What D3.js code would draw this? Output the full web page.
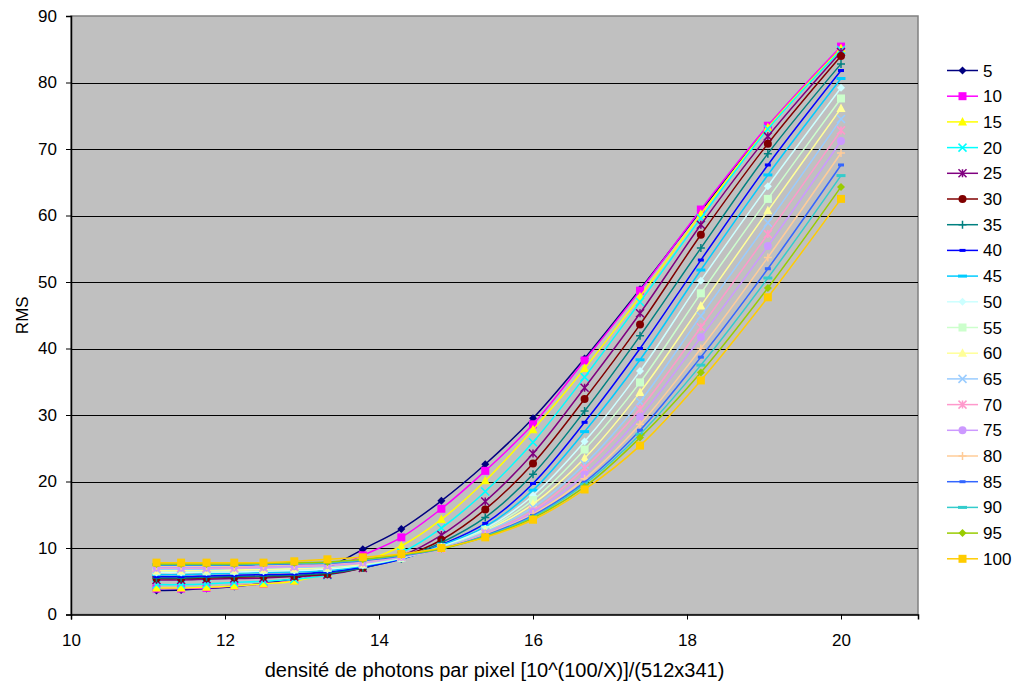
<!DOCTYPE html>
<html>
<head>
<meta charset="utf-8">
<script src="https://cdn.jsdelivr.net/npm/d3@7"></script>
<style>
  body { margin: 0; background: #fff; }
  text { font-family: "Liberation Sans", Arial, sans-serif; }
</style>
</head>
<body>
<div id="chart"></div>
<script>
// x positions: 100/X for X = 9 ... 5
var xValues = [11.11, 11.43, 11.76, 12.12, 12.5, 12.9, 13.33, 13.79, 14.29, 14.81, 15.38, 16.0, 16.67, 17.39, 18.18, 19.05, 20.0];

var seriesNames = ["5", "10", "15", "20", "25", "30", "35", "40", "45", "50",
                   "55", "60", "65", "70", "75", "80", "85", "90", "95", "100"];

var s5   = [3.6, 3.7, 3.9, 4.2, 4.7, 5.4, 7.0, 9.8, 12.85, 17.1, 22.6, 29.5, 38.5, 48.9, 60.7, 73.3, 85.2];
var s10  = [3.9, 3.9, 4.0, 4.3, 4.6, 5.1, 6.6, 8.9, 11.6, 15.9, 21.6, 28.6, 38.2, 48.7, 60.9, 73.5, 85.4];
var s15  = [4.0, 4.0, 4.1, 4.3, 4.6, 5.0, 6.2, 7.9, 10.3, 14.3, 20.1, 27.8, 37.0, 47.8, 60.2, 73.2, 85.1];
var s20  = [4.5, 4.5, 4.6, 4.8, 5.0, 5.3, 5.9, 7.3, 9.3, 13.0, 18.5, 25.9, 35.7, 47.0, 59.6, 73.0, 84.9];
var s25  = [5.2, 5.2, 5.3, 5.4, 5.5, 5.7, 6.0, 7.0, 8.8, 11.95, 17.0, 24.2, 34.1, 45.3, 58.6, 71.9, 84.6];
var s30  = [5.4, 5.4, 5.5, 5.6, 5.7, 5.8, 6.1, 7.0, 8.6, 11.2, 15.8, 22.7, 32.4, 43.6, 57.1, 70.8, 84.0];
var s35  = [5.5, 5.5, 5.6, 5.7, 5.8, 5.9, 6.2, 7.0, 8.4, 10.8, 14.6, 21.1, 30.6, 41.9, 55.1, 69.3, 82.8];
var s40  = [5.7, 5.7, 5.8, 5.9, 6.0, 6.1, 6.4, 7.1, 8.3, 10.5, 13.7, 19.7, 28.9, 40.0, 53.3, 67.6, 81.8];
var s45  = [6.0, 6.0, 6.1, 6.2, 6.3, 6.4, 6.6, 7.3, 8.4, 10.4, 13.2, 18.7, 27.5, 38.3, 51.8, 66.1, 80.6];
var s50  = [6.3, 6.3, 6.4, 6.4, 6.5, 6.6, 6.8, 7.4, 8.5, 10.2, 12.9, 17.9, 26.0, 36.6, 50.2, 64.4, 79.2];
var s55  = [6.5, 6.5, 6.5, 6.6, 6.7, 6.8, 7.0, 7.5, 8.5, 10.1, 12.7, 17.2, 24.8, 34.9, 48.3, 62.5, 77.6];
var s60  = [6.6, 6.6, 6.7, 6.7, 6.8, 6.9, 7.1, 7.6, 8.6, 10.0, 12.5, 16.6, 23.5, 33.4, 46.4, 60.7, 76.1];
var s65  = [6.8, 6.8, 6.8, 6.9, 7.0, 7.1, 7.2, 7.7, 8.6, 10.0, 12.4, 16.1, 22.6, 32.0, 44.9, 58.9, 74.5];
var s70  = [7.0, 7.0, 7.0, 7.0, 7.1, 7.2, 7.4, 7.8, 8.7, 9.9, 12.2, 15.6, 22.0, 30.9, 43.2, 57.2, 72.8];
var s75  = [7.1, 7.1, 7.1, 7.2, 7.2, 7.3, 7.5, 7.9, 8.7, 9.9, 12.1, 15.4, 21.0, 29.7, 41.7, 55.4, 71.2];
var s80  = [7.3, 7.3, 7.3, 7.3, 7.4, 7.5, 7.6, 8.0, 8.8, 9.9, 12.0, 15.1, 20.4, 28.6, 40.0, 53.7, 69.4];
var s85  = [7.4, 7.4, 7.4, 7.4, 7.5, 7.6, 7.7, 8.1, 8.8, 9.9, 11.9, 14.9, 19.9, 27.7, 38.7, 52.0, 67.6];
var s90  = [7.5, 7.5, 7.5, 7.5, 7.6, 7.7, 7.8, 8.2, 8.9, 9.9, 11.8, 14.7, 19.6, 27.1, 37.5, 50.6, 66.0];
var s95  = [7.6, 7.6, 7.6, 7.6, 7.7, 7.8, 7.9, 8.3, 9.0, 9.9, 11.7, 14.5, 19.2, 26.6, 36.4, 49.1, 64.3];
var s100 = [7.8, 7.8, 7.8, 7.8, 7.8, 8.0, 8.3, 8.6, 9.1, 10.0, 11.6, 14.25, 18.8, 25.4, 35.2, 47.7, 62.5];

var xTicks = [10, 12, 14, 16, 18, 20];
var yTicks = [0, 10, 20, 30, 40, 50, 60, 70, 80, 90];

var seriesValues = [s5, s10, s15, s20, s25, s30, s35, s40, s45, s50,
                    s55, s60, s65, s70, s75, s80, s85, s90, s95, s100];

// Excel 2003 default palette + marker shapes
var colors = ["#000080", "#FF00FF", "#FFFF00", "#00FFFF", "#800080", "#800000", "#008080", "#0000FF", "#00CCFF", "#CCFFFF",
              "#CCFFCC", "#FFFF99", "#99CCFF", "#FF99CC", "#CC99FF", "#FFCC99", "#3366FF", "#33CCCC", "#99CC00", "#FFCC00"];
var shapes = ["diamond", "square", "triangle", "x", "star", "circle", "plus", "shortdash", "dash", "diamond",
              "square", "triangle", "x", "star", "circle", "plus", "shortdash", "dash", "diamond", "square"];

var W = 1015, H = 683;
var margin = { top: 16, right: 97, bottom: 69, left: 71 };

var svg = d3.select("#chart")
  .append("svg")
  .attr("width", W)
  .attr("height", H);

var x = d3.scaleLinear().domain([10, 21]).range([margin.left, W - margin.right]);
var y = d3.scaleLinear().domain([0, 90]).range([H - margin.bottom + 0.5, margin.top]);

// plot area
svg.append("rect")
  .attr("x", x(10)).attr("y", y(90))
  .attr("width", x(21) - x(10)).attr("height", y(0) - y(90))
  .attr("fill", "#C0C0C0")
  .attr("stroke", "#808080")
  .attr("stroke-width", 1.5);

// gridlines
svg.append("g")
  .selectAll("line")
  .data(yTicks.filter(function (d) { return d > 0 && d < 90; }))
  .join("line")
  .attr("x1", x(10)).attr("x2", x(21))
  .attr("y1", function (d) { return Math.round(y(d)) + 0.5; })
  .attr("y2", function (d) { return Math.round(y(d)) + 0.5; })
  .attr("stroke", "#000")
  .attr("stroke-width", 1);

// axes
var xAxis = svg.append("g")
  .attr("transform", "translate(0," + y(0) + ")")
  .call(d3.axisBottom(x).tickValues(xTicks).tickSize(5).tickPadding(14));
var yAxis = svg.append("g")
  .attr("transform", "translate(" + x(10) + ",0)")
  .call(d3.axisLeft(y).tickValues(yTicks).tickSize(5).tickPadding(9));

[xAxis, yAxis].forEach(function (a) {
  a.select(".domain").attr("stroke", "#000").attr("stroke-width", 1.5);
  a.selectAll(".tick line").attr("stroke", "#000");
  a.selectAll(".tick text")
    .attr("font-family", "Liberation Sans, Arial, sans-serif")
    .attr("font-size", 17)
    .attr("fill", "#000");
});

// axis titles
svg.append("text")
  .attr("x", (x(10) + x(21)) / 2)
  .attr("y", 677)
  .attr("text-anchor", "middle")
  .attr("font-size", 20)
  .text("densité de photons par pixel [10^(100/X)]/(512x341)");

svg.append("text")
  .attr("transform", "translate(28," + (y(45)) + ") rotate(-90)")
  .attr("text-anchor", "middle")
  .attr("font-size", 17)
  .text("RMS");

// marker drawing
function drawMarker(g, shape, color, cx, cy) {
  var s = 4;
  if (shape === "diamond") {
    g.append("path").attr("d", "M" + cx + "," + (cy - s) + "L" + (cx + s) + "," + cy + "L" + cx + "," + (cy + s) + "L" + (cx - s) + "," + cy + "Z")
      .attr("fill", color);
  } else if (shape === "square") {
    g.append("rect").attr("x", cx - s).attr("y", cy - s).attr("width", 2 * s).attr("height", 2 * s).attr("fill", color);
  } else if (shape === "triangle") {
    g.append("path").attr("d", "M" + cx + "," + (cy - s - 1) + "L" + (cx + s + 0.5) + "," + (cy + s - 0.5) + "L" + (cx - s - 0.5) + "," + (cy + s - 0.5) + "Z")
      .attr("fill", color);
  } else if (shape === "circle") {
    g.append("circle").attr("cx", cx).attr("cy", cy).attr("r", s).attr("fill", color);
  } else if (shape === "x" || shape === "star" || shape === "plus") {
    var d = "";
    if (shape !== "plus") d += "M" + (cx - s) + "," + (cy - s) + "L" + (cx + s) + "," + (cy + s) + "M" + (cx - s) + "," + (cy + s) + "L" + (cx + s) + "," + (cy - s);
    if (shape === "star") d += "M" + cx + "," + (cy - s) + "L" + cx + "," + (cy + s);
    if (shape === "plus") d += "M" + (cx - s) + "," + cy + "L" + (cx + s) + "," + cy + "M" + cx + "," + (cy - s) + "L" + cx + "," + (cy + s);
    g.append("path").attr("d", d).attr("stroke", color).attr("stroke-width", 1.5).attr("fill", "none");
  } else if (shape === "shortdash") {
    g.append("rect").attr("x", cx - 3).attr("y", cy - 1.5).attr("width", 6).attr("height", 3).attr("fill", color);
  } else if (shape === "dash") {
    g.append("rect").attr("x", cx - 4.5).attr("y", cy - 1.5).attr("width", 9).attr("height", 3).attr("fill", color);
  }
}

var line = d3.line()
  .x(function (d) { return x(d[0]); })
  .y(function (d) { return y(d[1]); })
  .curve(d3.curveCatmullRom.alpha(0.5));

var plot = svg.append("g");
seriesValues.forEach(function (vals, i) {
  var pts = xValues.map(function (xv, j) { return [xv, vals[j]]; });
  var g = plot.append("g");
  g.append("path")
    .datum(pts)
    .attr("fill", "none")
    .attr("stroke", colors[i])
    .attr("stroke-width", 1.5)
    .attr("d", line);
  pts.forEach(function (p) {
    drawMarker(g, shapes[i], colors[i], x(p[0]), y(p[1]));
  });
});

// legend
var legend = svg.append("g");
seriesNames.forEach(function (name, i) {
  var ly = 70.5 + i * 25.7;
  legend.append("line")
    .attr("x1", 947).attr("x2", 978)
    .attr("y1", ly).attr("y2", ly)
    .attr("stroke", colors[i]).attr("stroke-width", 1.5);
  drawMarker(legend, shapes[i], colors[i], 962.5, ly);
  legend.append("text")
    .attr("x", 983).attr("y", ly + 6)
    .attr("font-size", 17)
    .text(name);
});
</script>
</body>
</html>
